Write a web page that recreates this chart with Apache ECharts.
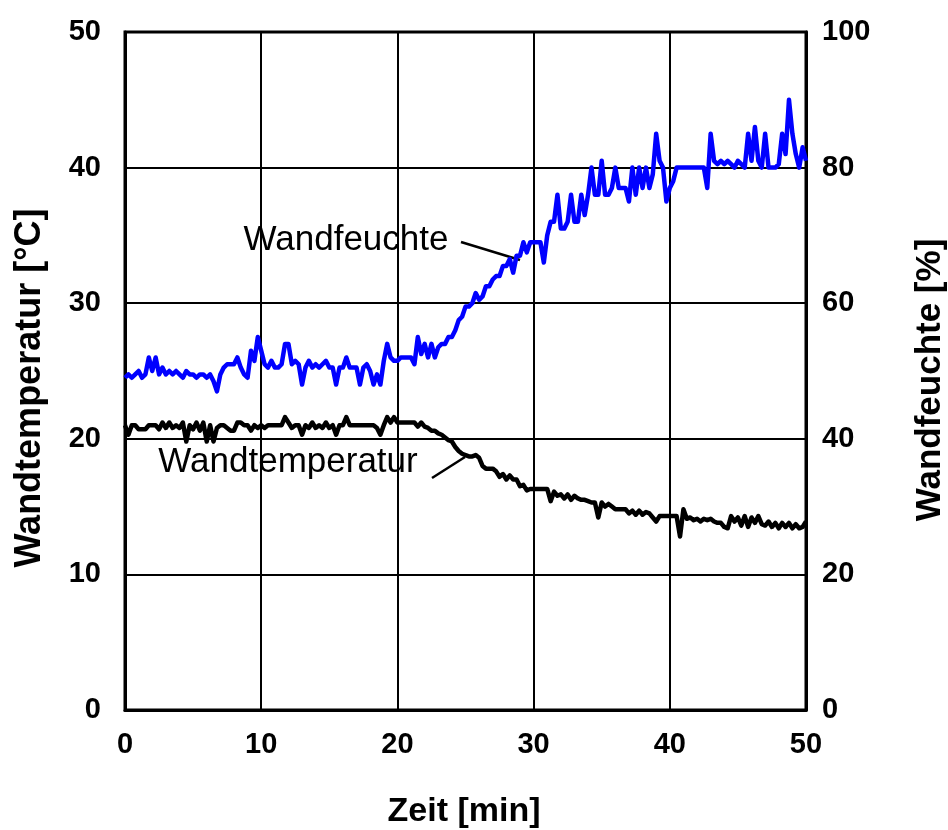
<!DOCTYPE html>
<html>
<head>
<meta charset="utf-8">
<title>Wandtemperatur und Wandfeuchte</title>
<script src="https://cdn.jsdelivr.net/npm/echarts@6/dist/echarts.min.js"></script>
<style>
  html, body { margin: 0; padding: 0; background: #fff; }
  #chart { width: 948px; height: 830px; }
</style>
</head>
<body>
<div id="chart"></div>
<script>
// Zeit [min], 0.25-min Raster
const zeit = [
  0, 0.25, 0.5, 0.75, 1, 1.25, 1.5, 1.75, 2, 2.25, 2.5, 2.75, 3, 3.25, 3.5, 3.75, 4, 4.25, 4.5, 4.75,
  5, 5.25, 5.5, 5.75, 6, 6.25, 6.5, 6.75, 7, 7.25, 7.5, 7.75, 8, 8.25, 8.5, 8.75, 9, 9.25, 9.5, 9.75,
  10, 10.25, 10.5, 10.75, 11, 11.25, 11.5, 11.75, 12, 12.25, 12.5, 12.75, 13, 13.25, 13.5, 13.75, 14, 14.25, 14.5, 14.75,
  15, 15.25, 15.5, 15.75, 16, 16.25, 16.5, 16.75, 17, 17.25, 17.5, 17.75, 18, 18.25, 18.5, 18.75, 19, 19.25, 19.5, 19.75,
  20, 20.25, 20.5, 20.75, 21, 21.25, 21.5, 21.75, 22, 22.25, 22.5, 22.75, 23, 23.25, 23.5, 23.75, 24, 24.25, 24.5, 24.75,
  25, 25.25, 25.5, 25.75, 26, 26.25, 26.5, 26.75, 27, 27.25, 27.5, 27.75, 28, 28.25, 28.5, 28.75, 29, 29.25, 29.5, 29.75,
  30, 30.25, 30.5, 30.75, 31, 31.25, 31.5, 31.75, 32, 32.25, 32.5, 32.75, 33, 33.25, 33.5, 33.75, 34, 34.25, 34.5, 34.75,
  35, 35.25, 35.5, 35.75, 36, 36.25, 36.5, 36.75, 37, 37.25, 37.5, 37.75, 38, 38.25, 38.5, 38.75, 39, 39.25, 39.5, 39.75,
  40, 40.25, 40.5, 40.75, 41, 41.25, 41.5, 41.75, 42, 42.25, 42.5, 42.75, 43, 43.25, 43.5, 43.75, 44, 44.25, 44.5, 44.75,
  45, 45.25, 45.5, 45.75, 46, 46.25, 46.5, 46.75, 47, 47.25, 47.5, 47.75, 48, 48.25, 48.5, 48.75, 49, 49.25, 49.5, 49.75,
  50
];

// Wandfeuchte [%] (rechte Achse)
const wandfeuchte = [
  49, 49.5, 49, 49.5, 50, 49, 49.5, 52, 50, 52, 49.5, 50.5, 49.5, 50, 49.5, 50, 49.5, 49, 50, 49.5,
  49.5, 49, 49.5, 49.5, 49, 49.5, 48.5, 47, 49.5, 50.5, 51, 51, 51, 52, 50.5, 49.5, 49, 53, 51.5, 55,
  53, 51, 50.5, 51.5, 50.5, 50.5, 51, 54, 54, 51, 51.5, 51, 48, 50.5, 51.5, 50.5, 51, 50.5, 51, 51.5,
  50.5, 50.5, 48, 50.5, 50.5, 52, 50.5, 50.5, 50.5, 48, 50.5, 51, 50, 48, 49.5, 48, 51.5, 54, 52, 51.5,
  51.5, 52, 52, 52, 52, 51, 55, 52.5, 54, 52, 54, 52, 53.5, 54, 54, 55, 55, 56, 57.5, 58,
  59.5, 59.5, 60, 61.5, 60.5, 61, 62.5, 62.5, 63.5, 64, 64, 65.5, 65.5, 66.5, 64.5, 67, 67, 69, 67.5, 69,
  69, 69, 69, 66, 70, 72, 72, 76, 71, 71, 72, 76, 72, 72, 76, 73, 76, 80, 76, 76,
  81, 76, 76, 77, 80, 77, 77, 77, 75, 80, 76, 80, 77, 80, 77, 79, 85, 81, 80, 75,
  77, 78, 80, 80, 80, 80, 80, 80, 80, 80, 80, 77, 85, 81, 80.5, 81, 80.5, 81, 80.5, 80,
  81, 80.5, 80, 85, 81, 86, 81, 80, 85, 80, 80, 80, 80.5, 85, 82, 90, 85, 82, 80, 83,
  81
];

// Wandtemperatur [°C] (linke Achse)
const wandtemperatur = [
  21, 20.3, 21, 21, 20.7, 20.7, 20.7, 21, 21, 21, 20.7, 21.2, 20.8, 21.2, 20.8, 21, 20.8, 21.2, 19.8, 21,
  20.7, 21.2, 20.6, 21.2, 19.8, 21, 19.8, 20.8, 21, 21, 20.8, 20.6, 20.6, 21.2, 21.2, 21, 21, 20.6, 21, 20.8,
  21, 20.8, 21, 21, 21, 21, 21, 21.6, 21.2, 20.8, 21, 21, 20.3, 21, 20.8, 21.2, 20.8, 21, 20.8, 21.2,
  20.8, 21, 20.3, 21, 21, 21.6, 21, 21, 21, 21, 21, 21, 21, 21, 20.8, 20.3, 21, 21.6, 21.2, 21.6,
  21.2, 21.2, 21.2, 21.2, 21.2, 21.2, 20.9, 21.2, 20.9, 20.8, 20.6, 20.6, 20.4, 20.3, 20.1, 19.9, 19.8, 19.4, 19.1, 18.9,
  18.8, 18.7, 18.7, 18.8, 18.6, 18, 17.8, 17.8, 17.8, 17.6, 17.2, 17.4, 17, 17.3, 17, 17, 16.5, 16.6, 16.2, 16.3,
  16.3, 16.3, 16.3, 16.3, 16.3, 15.4, 16.1, 15.8, 15.9, 15.6, 15.9, 15.5, 15.8, 15.6, 15.5, 15.5, 15.4, 15.3, 15.3, 14.2,
  15.3, 15, 15.2, 15, 14.8, 14.8, 14.8, 14.8, 14.5, 14.7, 14.4, 14.7, 14.4, 14.6, 14.5, 14.2, 13.9, 14.3, 14.3, 14.3,
  14.3, 14.3, 14.3, 12.8, 14.8, 14.1, 14.2, 14, 14.1, 13.9, 14.1, 14, 14.1, 13.9, 13.8, 13.8, 13.5, 13.4, 14.3, 13.9,
  14.2, 13.6, 14.3, 13.5, 14.2, 13.8, 14.3, 13.7, 13.6, 13.9, 13.5, 13.8, 13.4, 13.8, 13.5, 13.8, 13.4, 13.7, 13.4, 13.5,
  13.9
];

const feuchteData = zeit.map((t, i) => [t, wandfeuchte[i]]);
const tempData = zeit.map((t, i) => [t, wandtemperatur[i]]);

const chart = echarts.init(document.getElementById('chart'));

const labelFont = {
  fontFamily: 'Liberation Sans, Arial, sans-serif',
  fontWeight: 'bold',
  fontSize: 29,
  color: '#000'
};

chart.setOption({
  backgroundColor: '#fff',
  animation: false,
  grid: {
    left: 125,
    right: 142,
    top: 32,
    bottom: 120,
    show: true,
    borderColor: '#000',
    borderWidth: 3,
    containLabel: false
  },
  xAxis: {
    type: 'value',
    min: 0,
    max: 50,
    interval: 10,
    axisLine: { show: true, lineStyle: { color: '#000', width: 3 } },
    axisTick: { show: false },
    axisLabel: Object.assign({ margin: 20 }, labelFont),
    splitLine: { show: true, lineStyle: { color: '#000', width: 2 } }
  },
  yAxis: [
    {
      type: 'value',
      min: 0,
      max: 50,
      interval: 10,
      axisLine: { show: true, lineStyle: { color: '#000', width: 3 } },
      axisTick: { show: false },
      axisLabel: Object.assign({ margin: 24 }, labelFont),
      splitLine: { show: true, lineStyle: { color: '#000', width: 2 } }
    },
    {
      type: 'value',
      min: 0,
      max: 100,
      interval: 20,
      position: 'right',
      axisLine: { show: true, lineStyle: { color: '#000', width: 3 } },
      axisTick: { show: false },
      axisLabel: Object.assign({ margin: 16 }, labelFont),
      splitLine: { show: false }
    }
  ],
  series: [
    {
      name: 'Wandtemperatur',
      type: 'line',
      yAxisIndex: 0,
      data: tempData,
      showSymbol: false,
      lineStyle: { color: '#000', width: 4.5, join: 'round' },
      z: 3
    },
    {
      name: 'Wandfeuchte',
      type: 'line',
      yAxisIndex: 1,
      data: feuchteData,
      showSymbol: false,
      lineStyle: { color: '#0000ff', width: 4.5, join: 'round' },
      z: 4
    }
  ],
  graphic: [
    {
      type: 'text',
      x: 30, y: 388,
      rotation: Math.PI / 2,
      style: {
        text: 'Wandtemperatur [°C]',
        x: 0, y: 0,
        align: 'center', verticalAlign: 'middle',
        font: 'bold 36px "Liberation Sans", Arial, sans-serif',
        fill: '#000'
      }
    },
    {
      type: 'text',
      x: 930, y: 380,
      rotation: Math.PI / 2,
      style: {
        text: 'Wandfeuchte [%]',
        x: 0, y: 0,
        align: 'center', verticalAlign: 'middle',
        font: 'bold 35px "Liberation Sans", Arial, sans-serif',
        fill: '#000'
      }
    },
    {
      type: 'text',
      x: 464, y: 812,
      style: {
        text: 'Zeit [min]',
        x: 0, y: 0,
        align: 'center', verticalAlign: 'middle',
        font: 'bold 34px "Liberation Sans", Arial, sans-serif',
        fill: '#000'
      }
    },
    {
      type: 'text',
      x: 346, y: 240,
      style: {
        text: 'Wandfeuchte',
        x: 0, y: 0,
        align: 'center', verticalAlign: 'middle',
        font: '35px "Liberation Sans", Arial, sans-serif',
        fill: '#000'
      }
    },
    {
      type: 'line',
      shape: { x1: 461, y1: 242, x2: 520, y2: 260 },
      style: { stroke: '#000', lineWidth: 2.5 }
    },
    {
      type: 'text',
      x: 288, y: 462,
      style: {
        text: 'Wandtemperatur',
        x: 0, y: 0,
        align: 'center', verticalAlign: 'middle',
        font: '35px "Liberation Sans", Arial, sans-serif',
        fill: '#000'
      }
    },
    {
      type: 'line',
      shape: { x1: 432, y1: 478, x2: 465, y2: 457 },
      style: { stroke: '#000', lineWidth: 2.5 }
    }
  ]
});
</script>
</body>
</html>
